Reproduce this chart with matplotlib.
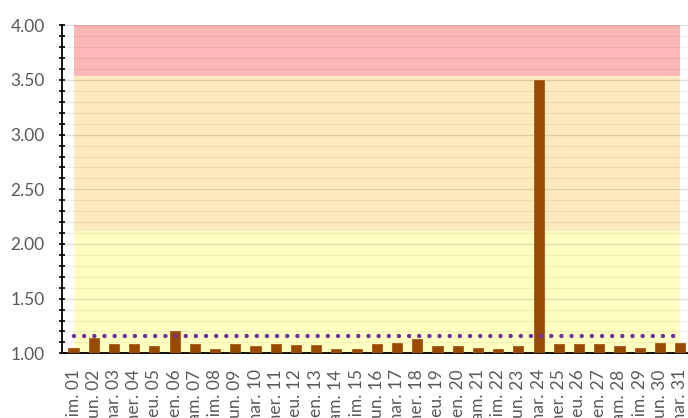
import matplotlib
matplotlib.use("Agg")
import matplotlib.pyplot as plt
import numpy as np
from matplotlib.ticker import MultipleLocator, FormatStrFormatter

days = ["dim.", "lun.", "mar.", "mer.", "jeu.", "ven.", "sam."]
labels = [f"{days[i % 7]} {i+1:02d}" for i in range(31)]
values = [1.046, 1.137, 1.085, 1.085, 1.070, 1.204, 1.082, 1.037, 1.082, 1.070,
          1.085, 1.076, 1.076, 1.040, 1.040, 1.082, 1.095, 1.134, 1.067, 1.070,
          1.046, 1.040, 1.067, 3.500, 1.085, 1.082, 1.085, 1.067, 1.052, 1.095, 1.090]
reference = 1.158
band_limits = [1.0, 2.115, 3.54, 4.0]
band_colors = ["#ffffc2", "#fdebbf", "#ffb8b8"]

W, H = 688, 418
fig = plt.figure(figsize=(W/100, H/100), dpi=100)
ax = fig.add_axes([62/W, 1-353.3/H, (W-62)/W, (353.3-25.3)/H])

x = np.arange(len(values))
for lo, hi, c in zip(band_limits[:-1], band_limits[1:], band_colors):
    ax.fill_between(x, np.full(len(x), lo), np.full(len(x), hi), color=c, lw=0, zorder=1)

ax.bar(x, [v - 1.0 for v in values], bottom=1.0, width=0.5, color="#994a00",
       edgecolor="#a65a14", linewidth=0.6, zorder=3)

lw = 3.2
period_pt = (W-62) / (30.39+0.57) / 2 * 0.72
ax.plot(x, np.full(len(x), reference), color="#7030a0", lw=lw, linestyle=(0, (0.01, period_pt/lw)),
        dash_capstyle="round", zorder=4)

ax.set_xlim(-0.57, 30.39)
ax.set_ylim(1.0, 4.0)
ax.yaxis.set_major_locator(MultipleLocator(0.5))
ax.yaxis.set_minor_locator(MultipleLocator(0.1))
ax.yaxis.set_major_formatter(FormatStrFormatter("%.2f"))
ax.set_axisbelow(False)
ax.grid(axis="y", which="minor", color="#000000", alpha=0.06, lw=0.9)
ax.grid(axis="y", which="major", color="#000000", alpha=0.12, lw=1.0)

ax.set_xticks(x)
ax.set_xticklabels(labels, rotation=90, va="top", ha="center")
ax.tick_params(axis="x", length=0, pad=11.5, labelsize=12.5, labelcolor="#595959")
ax.tick_params(axis="y", which="major", direction="inout", length=5, width=1.2,
               labelsize=12.5, labelcolor="#595959", pad=10)
ax.tick_params(axis="y", which="minor", direction="inout", length=4, width=1.2)
for lab in ax.get_xticklabels() + ax.get_yticklabels():
    lab.set_fontfamily(["Lato", "DejaVu Sans"])

for s in ["top", "right"]:
    ax.spines[s].set_visible(False)
ax.spines["left"].set_linewidth(1.3)
ax.spines["bottom"].set_linewidth(1.3)
ax.patch.set_facecolor("white")

fig.savefig("out.png", dpi=100)
